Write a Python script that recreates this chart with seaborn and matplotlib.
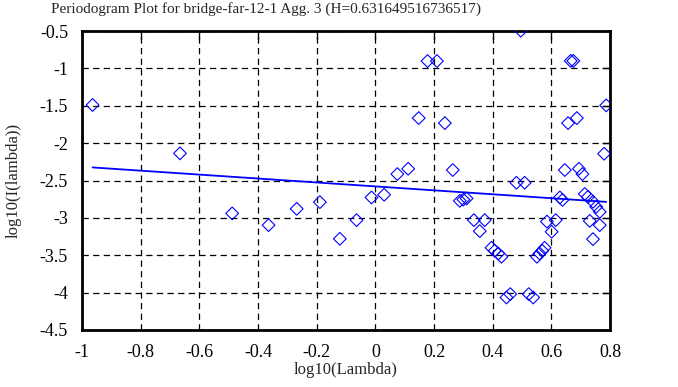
import numpy as np
import matplotlib
matplotlib.use("Agg")
import matplotlib.pyplot as plt
import seaborn as sns

# periodogram points (log10 lambda, log10 I(lambda))
log_lambda = [-0.964, -0.666, -0.488, -0.364, -0.268, -0.189, -0.121, -0.064,
              -0.013, 0.030, 0.075, 0.112, 0.148, 0.178, 0.210, 0.237, 0.264,
              0.288, 0.300, 0.311, 0.336, 0.356, 0.373, 0.396, 0.407, 0.419,
              0.430, 0.447, 0.460, 0.481, 0.496, 0.509, 0.523, 0.538, 0.551,
              0.560, 0.569, 0.577, 0.585, 0.601, 0.615, 0.629, 0.638, 0.646,
              0.657, 0.666, 0.675, 0.687, 0.694, 0.706, 0.714, 0.725, 0.731,
              0.742, 0.742, 0.753, 0.765, 0.765, 0.780, 0.787]
log_power = [-1.49, -2.137, -2.94, -3.097, -2.879, -2.789, -3.28, -3.03,
             -2.727, -2.691, -2.414, -2.343, -1.665, -0.902, -0.902, -1.732, -2.36,
             -2.772, -2.755, -2.74, -3.03, -3.177, -3.03, -3.40, -3.44, -3.476,
             -3.52, -4.065, -4.02, -2.53, -0.496, -2.53, -4.02, -4.065, -3.52,
             -3.476, -3.44, -3.40, -3.05, -3.186, -3.03, -2.727, -2.76, -2.36,
             -1.732, -0.90, -0.90, -1.665, -2.343, -2.414, -2.68, -2.718, -3.04,
             -2.785, -3.284, -2.852, -2.919, -3.097, -2.142, -1.495]

H = 0.631649516736517
slope = 1 - 2 * H
intercept = -2.579

xticks = [-1, -0.8, -0.6, -0.4, -0.2, 0, 0.2, 0.4, 0.6, 0.8]
yticks = [-4.5, -4, -3.5, -3, -2.5, -2, -1.5, -1, -0.5]

sns.set_style("white")
plt.rcParams["font.family"] = ["Liberation Serif", "DejaVu Serif"]

fig = plt.figure(figsize=(6.78, 3.87), dpi=100)
ax = fig.add_axes([82 / 678, 1 - 330 / 387, 528 / 678, 299 / 387])

sns.scatterplot(x=log_lambda, y=log_power, marker="D", s=42,
                facecolor="none", edgecolor="blue", linewidth=0.8, ax=ax, zorder=3)

fit_x = np.array([min(log_lambda), max(log_lambda)])
sns.lineplot(x=fit_x, y=intercept + slope * fit_x, color="blue", linewidth=1.3, ax=ax, zorder=2)

ax.set_xlim(-1, 0.8)
ax.set_ylim(-4.5, -0.5)
ax.set_xticks(xticks)
ax.set_yticks(yticks)
ax.set_xticklabels([f"{t:g}" for t in xticks], fontsize=13)
ax.set_yticklabels([f"{t:g}" for t in yticks], fontsize=13)
ax.tick_params(direction="in", length=6, width=1, top=True, right=True, colors="black")
ax.tick_params(axis="y", pad=10)
ax.tick_params(axis="x", pad=10)
ax.grid(True, color="black", linestyle=(0, (5, 3.5)), linewidth=0.9)
for sp in ax.spines.values():
    sp.set_linewidth(2)
    sp.set_color("black")

ax.set_xlabel("log10(Lambda)", fontsize=12, labelpad=1)
ax.set_ylabel("log10(I(lambda))", fontsize=12)
ax.yaxis.set_label_coords(-0.114, 0.5)
fig.text(266 / 678, 1 - 2 / 387, f"Periodogram Plot for bridge-far-12-1 Agg. 3 (H={H})",
         ha="center", va="top", fontsize=11)

fig.savefig("out.png", dpi=100)
